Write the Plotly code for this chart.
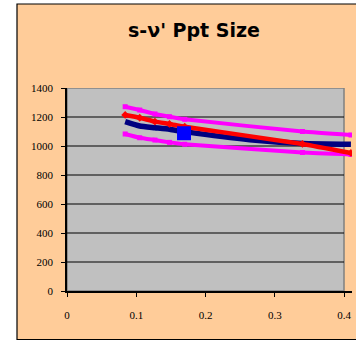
import plotly.graph_objects as go

# data
x_pts = [0.084, 0.105, 0.127, 0.148, 0.170, 0.340, 0.410]
upper_magenta = [1271, 1248, 1221, 1202, 1184, 1100, 1076]
red_vals = [1214, 1195, 1168, 1152, 1133, 1014, 952]
lower_magenta = [1083, 1057, 1041, 1025, 1012, 955, 942]
x_navy = [0.084, 0.105, 0.127, 0.148, 0.170, 0.264, 0.340, 0.410]
navy_vals = [1168, 1138, 1126, 1115, 1099, 1043, 1017, 1012]
point_x = [0.169]
point_y = [1088]

y_ticks = [0, 200, 400, 600, 800, 1000, 1200, 1400]
x_ticks = [0, 0.1, 0.2, 0.3, 0.4]
x_tick_text = ["0", "0.1", "0.2", "0.3", "0.4"]
x_max = 0.4
y_max = 1400

W, H = 356, 340
ml, mr, mt, mb = 67, 4, 88, 49
pw = W - ml - mr
ph = H - mt - mb
x_range_max = x_max * pw / 277.0

def px2paper_x(px):
    return (px - ml) / pw

def px2paper_y(py):
    return (H - mb - py) / ph

fig = go.Figure()

fig.add_trace(go.Scatter(x=x_pts, y=lower_magenta, mode="lines+markers",
                         line=dict(color="#FF00FF", width=4, shape="spline", smoothing=0.4),
                         marker=dict(symbol="square", size=5, color="#FF00FF")))
fig.add_trace(go.Scatter(x=x_pts, y=upper_magenta, mode="lines+markers",
                         line=dict(color="#FF00FF", width=4, shape="spline", smoothing=0.4),
                         marker=dict(symbol="square", size=5, color="#FF00FF")))
fig.add_trace(go.Scatter(x=x_navy, y=navy_vals, mode="lines",
                         line=dict(color="#000080", width=5.5, shape="spline", smoothing=0.5)))
fig.add_trace(go.Scatter(x=x_pts, y=red_vals, mode="lines+markers",
                         line=dict(color="#FF0000", width=4.5, shape="spline", smoothing=0.4),
                         marker=dict(symbol="diamond", size=6, color="#FF0000")))
fig.add_trace(go.Scatter(x=point_x, y=point_y, mode="markers",
                         marker=dict(symbol="square", size=14, color="#0000FF")))

shapes = []
# chart area (peach box with border)
shapes.append(dict(type="rect", xref="paper", yref="paper", layer="below",
                   x0=px2paper_x(17), x1=px2paper_x(W + 20),
                   y0=px2paper_y(339.5), y1=px2paper_y(4),
                   fillcolor="#FFCC99", line=dict(color="#000000", width=1.2)))
# plot area
shapes.append(dict(type="rect", xref="x", yref="y", layer="below",
                   x0=0, x1=x_max, y0=0, y1=y_max,
                   fillcolor="#C0C0C0", line=dict(color="#808080", width=1.5)))
for t in y_ticks[1:-1]:
    shapes.append(dict(type="line", xref="x", yref="y", layer="below",
                       x0=0, x1=x_max, y0=t, y1=t,
                       line=dict(color="#000000", width=1)))

fig.update_layout(
    width=W, height=H,
    margin=dict(l=ml, r=mr, t=mt, b=mb),
    paper_bgcolor="#FFFFFF",
    plot_bgcolor="rgba(0,0,0,0)",
    showlegend=False,
    shapes=shapes,
    annotations=[dict(text="<b>s-ν' Ppt Size</b>", xref="paper", yref="paper",
                      x=px2paper_x(194), y=px2paper_y(30.5),
                      xanchor="center", yanchor="middle", showarrow=False,
                      font=dict(family="DejaVu Sans", size=19, color="#000000"))],
    xaxis=dict(range=[0, x_range_max], tickvals=x_ticks, ticktext=x_tick_text,
               showgrid=False, zeroline=False, showline=True, linecolor="#000000", linewidth=1.5,
               ticks="outside", ticklen=4, tickcolor="#000000", tickwidth=1,
               ticklabelstandoff=9,
               tickfont=dict(family="Liberation Serif, Times New Roman", size=11, color="#000000")),
    yaxis=dict(range=[0, y_max], tickvals=y_ticks,
               showgrid=False, zeroline=False, showline=True, linecolor="#000000", linewidth=1.5,
               ticks="outside", ticklen=4, tickcolor="#000000", tickwidth=1,
               ticklabelstandoff=6,
               tickfont=dict(family="Liberation Serif, Times New Roman", size=11, color="#000000")),
)

fig.write_html("out.html")
